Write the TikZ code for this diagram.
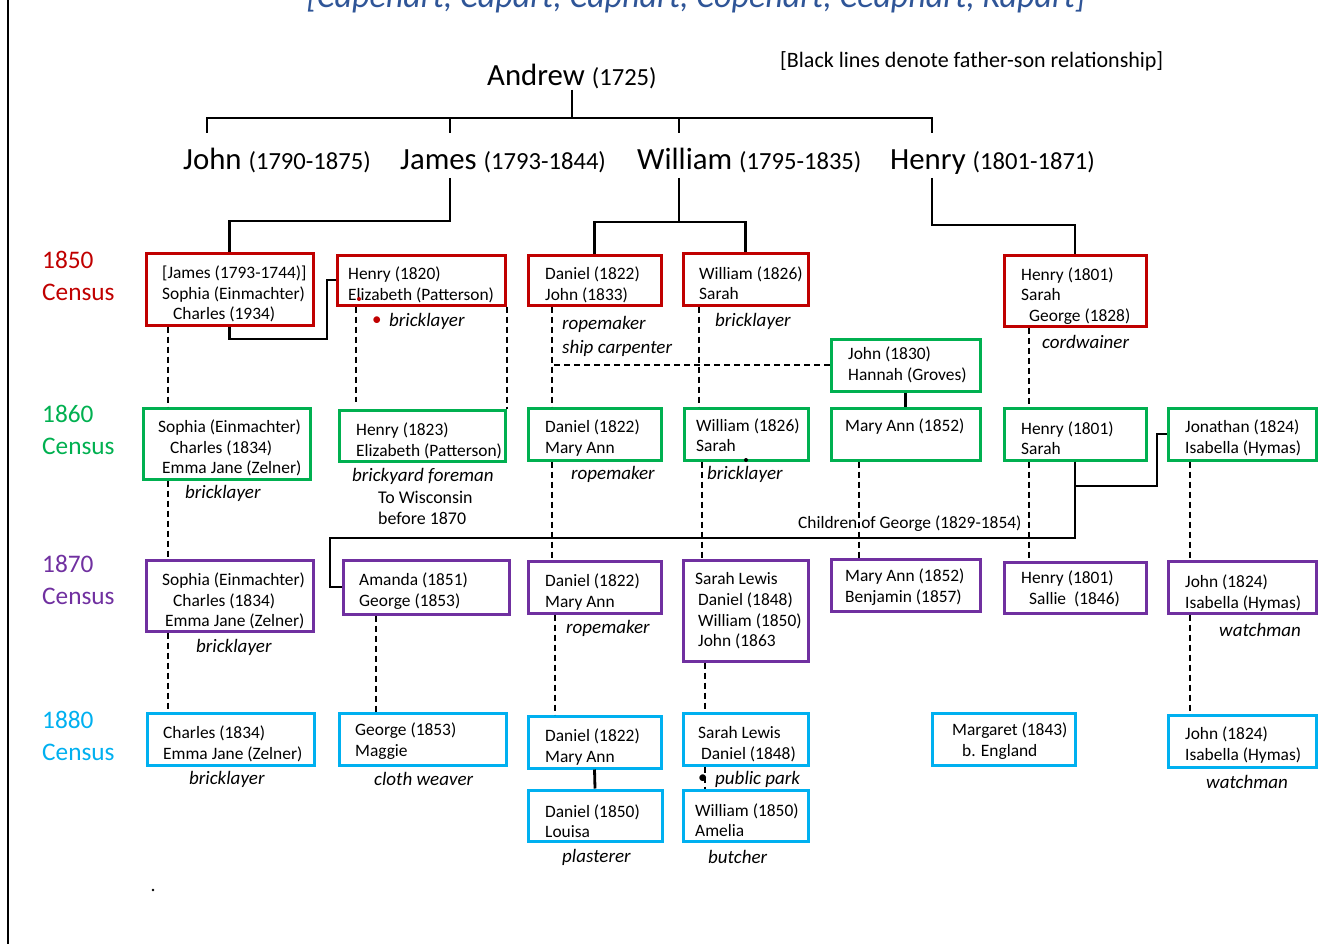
\documentclass[tikz,border=0pt]{standalone}
\usepackage{fontspec}
\setmainfont{Carlito}
\usetikzlibrary{calc}
\definecolor{cred}{HTML}{C00000}
\definecolor{cgreen}{HTML}{00B050}
\definecolor{cpurple}{HTML}{7030A0}
\definecolor{ccyan}{HTML}{00B0F0}
\definecolor{ctitle}{HTML}{2F5597}
\newcommand\pbox[6]{\node[box=#2, minimum width={(#5)-(#3)}, minimum height={(#6)-(#4)}] (#1) at ({((#3)+(#5))/2},{((#4)+(#6))/2}) {};}
\begin{document}
\begin{tikzpicture}[x=1pt,y=-1pt,
  box/.style={draw=#1, line width=3pt, inner sep=0pt},
  txt/.style={align=left, inner sep=0pt, anchor=west, font=\fontsize{17.4}{20.6}\selectfont},
  note/.style={inner sep=0pt, anchor=west, font=\fontsize{19}{21}\selectfont\itshape},
  plain/.style={inner sep=0pt, anchor=west, font=\fontsize{17.9}{21}\selectfont},
  rowlab/.style={align=left, inner sep=0pt, anchor=west, font=\fontsize{25.3}{32}\selectfont},
  big/.style={anchor=base west, inner sep=0pt, font=\fontsize{30.8}{33}\selectfont},
  fs/.style={line width=2.8pt, black},
  dsh/.style={line width=1.3pt, black, dash pattern=on 6pt off 4pt},
]
\useasboundingbox (0,0) rectangle (1341,944);
\clip (0,0) rectangle (1341,944);
\draw[line width=1.2pt] (8,0) -- (8,944);

% title and legend
\node[anchor=base, inner sep=0pt, font=\fontsize{34}{36}\selectfont\itshape, text=ctitle] (title) at (696,8) {[Capehart, Capart, Caphart, Copehart, Ceaphart, Kapart]};
\node[anchor=west, inner sep=0pt, font=\fontsize{22}{24}\selectfont] (legend) at (780,61) {[Black lines denote father-son relationship]};

% generations
\node[big] (An) at (487,86) {Andrew {\fontsize{24.6}{26}\selectfont(1725)}};
\node[big] (John) at (183,170) {John {\fontsize{24.6}{26}\selectfont(1790-1875)}};
\node[big] (James) at (400,170) {James {\fontsize{24.6}{26}\selectfont(1793-1844)}};
\node[big] (William) at (637,170) {William {\fontsize{24.6}{26}\selectfont(1795-1835)}};
\node[big] (Henry) at (890,170) {Henry {\fontsize{24.6}{26}\selectfont(1801-1871)}};

\coordinate (bar) at (570,118);
\coordinate (tJohn) at (207,133);
\coordinate (tJames) at (450,133);
\coordinate (tWilliam) at (679,133);
\coordinate (tHenry) at (932,133);
\coordinate (sJames) at (450,178);
\coordinate (sWilliam) at (679,178);
\coordinate (sHenry) at (932,178);

% row labels
\node[rowlab, text=cred] (L1850) at (42,276) {1850\\Census};
\node[rowlab, text=cgreen] (L1860) at (42,430) {1860\\Census};
\node[rowlab, text=cpurple] (L1870) at (42,580) {1870\\Census};
\node[rowlab, text=ccyan] (L1880) at (42,736) {1880\\Census};

% 1850 boxes
\pbox{A1}{cred}{146}{253}{313}{325}
\pbox{A2}{cred}{337}{255}{505}{305}
\pbox{A3}{cred}{528}{255}{661}{305}
\pbox{A4}{cred}{683}{253}{808}{305}
\pbox{A5}{cred}{1004}{255}{1146}{326}
\pbox{JH}{cgreen}{831}{339}{980}{391}
% 1860 boxes
\pbox{B1}{cgreen}{143}{408}{310}{479}
\pbox{B2}{cgreen}{339}{410}{505}{461}
\pbox{B3}{cgreen}{528}{408}{661}{460}
\pbox{B4}{cgreen}{684}{408}{808}{460}
\pbox{B5}{cgreen}{831}{408}{980}{460}
\pbox{B6}{cgreen}{1004}{408}{1146}{460}
\pbox{B7}{cgreen}{1168}{408}{1316}{460}
% 1870 boxes
\pbox{C1}{cpurple}{146}{560}{313}{631}
\pbox{C2}{cpurple}{343}{560}{509}{614}
\pbox{C3}{cpurple}{528}{561}{661}{613}
\pbox{C4}{cpurple}{683}{560}{808}{661}
\pbox{C5}{cpurple}{831}{559}{980}{611}
\pbox{C6}{cpurple}{1004}{562}{1146}{613}
\pbox{C7}{cpurple}{1168}{561}{1316}{613}
% 1880 boxes
\pbox{D1}{ccyan}{147}{713}{314}{765}
\pbox{D2}{ccyan}{339}{713}{506}{765}
\pbox{D3}{ccyan}{528}{716}{661}{768}
\pbox{D4}{ccyan}{683}{713}{808}{765}
\pbox{D5}{ccyan}{932}{713}{1075}{765}
\pbox{D6}{ccyan}{1168}{715}{1316}{767}
\pbox{D7}{ccyan}{528}{790}{662}{841}
\pbox{D8}{ccyan}{683}{790}{808}{841}

% box texts
\node[txt] (A1t) at (162,294) {[James (1793-1744)]\\Sophia (Einmachter)\\\hspace*{11pt}Charles (1934)};
\node[txt] (A2t) at (348,285) {Henry (1820)\\Elizabeth (Patterson)};
\node[txt] (A3t) at (545,285) {Daniel (1822)\\John (1833)};
\node[txt] (A4t) at (699,283) {William (1826)\\Sarah};
\node[txt] (A5t) at (1021,296) {Henry (1801)\\Sarah\\\hspace*{8pt}George (1828)};
\node[txt] (JHt) at (848,365) {John (1830)\\Hannah (Groves)};
\node[txt] (B1t) at (158,448) {Sophia (Einmachter)\\\hspace*{12pt}Charles (1834)\\\hspace*{4pt}Emma Jane (Zelner)};
\node[txt] (B2t) at (356,441) {Henry (1823)\\Elizabeth (Patterson)};
\node[txt] (B3t) at (545,438) {Daniel (1822)\\Mary Ann};
\node[txt] (B4t) at (696,435) {William (1826)\\Sarah};
\node[txt] (B5t) at (845,427) {Mary Ann (1852)};
\node[txt] (B6t) at (1021,438) {Henry (1801)\\Sarah};
\node[txt] (B7t) at (1185,438) {Jonathan (1824)\\Isabella (Hymas)};
\node[txt] (C1t) at (162,601) {Sophia (Einmachter)\\\hspace*{11pt}Charles (1834)\\\hspace*{3pt}Emma Jane (Zelner)};
\node[txt] (C2t) at (359,591) {Amanda (1851)\\George (1853)};
\node[txt] (C3t) at (545,592) {Daniel (1822)\\Mary Ann};
\node[txt] (C4t) at (695,611) {Sarah Lewis\\\hspace*{3pt}Daniel (1848)\\\hspace*{3pt}William (1850)\\\hspace*{3pt}John (1863};
\node[txt] (C5t) at (845,587) {Mary Ann (1852)\\Benjamin (1857)};
\node[txt] (C6t) at (1021,589) {Henry (1801)\\\hspace*{8pt}Sallie\ \ (1846)};
\node[txt] (C7t) at (1185,593) {John (1824)\\Isabella (Hymas)};
\node[txt] (D1t) at (163,744) {Charles (1834)\\Emma Jane (Zelner)};
\node[txt] (D2t) at (355,741) {George (1853)\\Maggie};
\node[txt] (D3t) at (545,747) {Daniel (1822)\\Mary Ann};
\node[txt] (D4t) at (698,744) {Sarah Lewis\\\hspace*{3pt}Daniel (1848)};
\node[txt] (D5t) at (952,741) {Margaret (1843)\\\hspace*{10pt}b. England};
\node[txt] (D6t) at (1185,745) {John (1824)\\Isabella (Hymas)};
\node[txt] (D7t) at (545,821) {Daniel (1850)\\Louisa};
\node[txt] (D8t) at (695,820) {William (1850)\\Amelia};

% notes
\node[note, text=cred, font=\fontsize{19}{21}\selectfont] (bul1) at (372,321) {•};
\node[note] (n1) at (389,321) {bricklayer};
\node[note] (n2) at (562,324) {ropemaker};
\node[note] (n3) at (562,348) {ship carpenter};
\node[note] (n4) at (715,321) {bricklayer};
\node[note] (n5) at (1042,342) {cordwainer};
\node[note] (n6) at (185,493) {bricklayer};
\node[note] (n7) at (352,476) {brickyard foreman};
\node[plain] (n8) at (378,497) {To Wisconsin};
\node[plain] (n9) at (378,518) {before 1870};
\node[note] (n10) at (571,474) {ropemaker};
\node[note] (n11) at (707,474) {bricklayer};
\node[txt] (kids) at (798,524) {Children of George (1829-1854)};
\node[note] (n12) at (196,647) {bricklayer};
\node[note] (n13) at (566,628) {ropemaker};
\node[note] (n14) at (1219,630) {watchman};
\node[note] (n15) at (189,779) {bricklayer};
\node[note] (n16) at (374,779) {cloth weaver};
\node[note, font=\fontsize{19}{21}\selectfont] (bul2) at (698,779) {•};
\node[note] (n17) at (715,779) {public park};
\node[note] (n18) at (562,857) {plasterer};
\node[note] (n19) at (708,857) {butcher};
\node[note] (n20) at (1206,782) {watchman};

% father-son lines
\draw[fs] (An.south) -- (An.south |- bar);
\draw[fs] (tJohn) -- (tJohn |- bar) -- (tHenry |- bar) -- (tHenry);
\draw[fs] (tJames |- bar) -- (tJames);
\draw[fs] (tWilliam |- bar) -- (tWilliam);
\draw[fs] (sJames) -- ++(0,43) -| (A1.north);
\draw[fs] (sWilliam) -- ++(0,44) coordinate (wj);
\draw[fs] (A3.north) |- (wj) -| (A4.north);
\draw[fs] (sHenry) -- ++(0,47) -| (A5.north);
\coordinate (k1) at (327,339);
\draw[fs] (A1.south) |- (k1) |- (A2.west);
\draw[fs] (JH.south) -- (B5.north);
\coordinate (k2) at (1157,486);
\coordinate (k3) at (330,538);
\draw[fs] (B6.south) |- (k2) |- (B7.west);
\draw[fs] (B6.south) |- (k3) |- (C2.west);
\draw[fs] (D3.south) -- (D7.north);

% census continuity (dashed)
\coordinate (x168) at (168,0);
\coordinate (x356) at (356,0);
\coordinate (x507) at (507,0);
\coordinate (x552) at (552,0);
\coordinate (x699) at (699,0);
\coordinate (x1029) at (1029,0);
\coordinate (x702) at (702,0);
\coordinate (x859) at (859,0);
\coordinate (x1190) at (1190,0);
\coordinate (x376) at (376,0);
\coordinate (x555) at (555,0);
\coordinate (x705) at (705,0);
\coordinate (e356) at (356,402);
\draw[dsh] (A1.south -| x168) -- (B1.north -| x168);
\draw[dsh] (A2.south -| x356) -- (e356);
\draw[dsh] (A2.south -| x507) -- (B2.north -| x507);
\draw[dsh] (A3.south -| x552) -- (B3.north -| x552);
\draw[dsh] (JH.west) -- (JH.west -| x552);
\draw[dsh] (A4.south -| x699) -- (B4.north -| x699);
\draw[dsh] (A5.south -| x1029) -- (B6.north -| x1029);
\draw[dsh] (B1.south -| x168) -- (C1.north -| x168);
\draw[dsh] (B3.south -| x552) -- (C3.north -| x552);
\draw[dsh] (B4.south -| x702) -- (C4.north -| x702);
\draw[dsh] (B5.south -| x859) -- (C5.north -| x859);
\draw[dsh] (B6.south -| x1029) -- (C6.north -| x1029);
\draw[dsh] (B7.south -| x1190) -- (C7.north -| x1190);
\draw[dsh] (C1.south -| x168) -- (D1.north -| x168);
\draw[dsh] (C2.south -| x376) -- (D2.north -| x376);
\draw[dsh] (C3.south -| x555) -- (D3.north -| x555);
\draw[dsh] (C4.south -| x705) -- (D4.north -| x705);
\draw[dsh] (C7.south -| x1190) -- (D6.north -| x1190);
\draw[dsh] (D4.south -| x705) -- (D8.north -| x705);

% stray dots
\fill[cred] (359,299) circle (2pt);
\fill (746,460) circle (2pt);
\fill (153,890) circle (1.3pt);
\end{tikzpicture}
\end{document}
